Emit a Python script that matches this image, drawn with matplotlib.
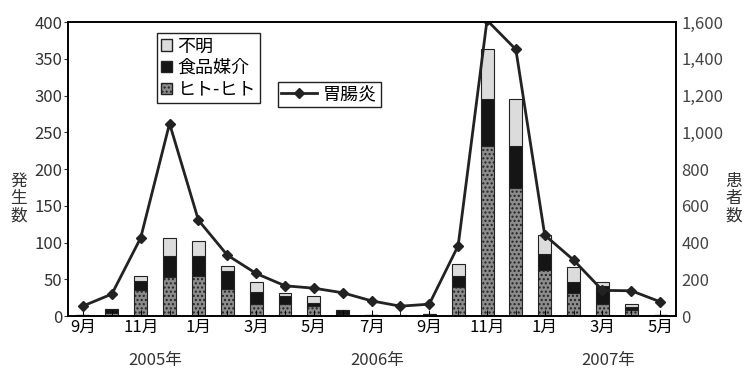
import matplotlib
matplotlib.use('Agg')
import matplotlib.pyplot as plt
from matplotlib.patches import Patch
from matplotlib.lines import Line2D
from matplotlib.ticker import FuncFormatter, MultipleLocator

plt.rcParams['font.family'] = ['Noto Sans CJK JP', 'DejaVu Sans']

# 2005年9月 ～ 2007年5月
months = ['9月', '10月', '11月', '12月', '1月', '2月', '3月', '4月', '5月', '6月', '7月',
          '8月', '9月', '10月', '11月', '12月', '1月', '2月', '3月', '4月', '5月']
hito = [1, 4, 35, 53, 54, 37, 17, 17, 14, 3, 1, 0, 1, 39, 231, 174, 63, 31, 16, 8, 1]
shokuhin = [0, 5, 13, 29, 28, 25, 16, 11, 4, 5, 0, 0, 2, 15, 64, 58, 21, 16, 25, 5, 0]
fumei = [1, 0, 6, 24, 20, 6, 13, 4, 9, 0, 1, 1, 0, 17, 69, 63, 26, 20, 6, 4, 1]
ichouen = [55, 120, 426, 1048, 522, 332, 232, 165, 152, 127, 83,
           54, 65, 383, 1610, 1451, 441, 305, 140, 138, 78]
years = ['2005年', '2006年', '2007年']
year_pos = [2.5, 10.2, 18.2]

x = list(range(len(months)))
bottom2 = [a + b for a, b in zip(hito, shokuhin)]

fig = plt.figure(figsize=(7.47, 3.68), dpi=100)
ax = fig.add_axes([0.091, 0.141, 0.814, 0.799])
ax2 = ax.twinx()

w = 0.45
ax.bar(x, hito, w, color='#8c8c8c', edgecolor='#222222', linewidth=0.8, hatch='....')
ax.bar(x, shokuhin, w, bottom=hito, color='#151515', edgecolor='#222222', linewidth=0.8)
ax.bar(x, fumei, w, bottom=bottom2, color='#dcdcdc', edgecolor='#222222', linewidth=0.8)

ax2.plot(x, ichouen, color='#222222', linewidth=2, marker='D', markersize=5)

ax.set_xlim(-0.52, 20.55)
ax.set_ylim(0, 400)
ax2.set_ylim(0, 1600)
ax.yaxis.set_major_locator(MultipleLocator(50))
ax2.yaxis.set_major_locator(MultipleLocator(200))
ax2.yaxis.set_major_formatter(FuncFormatter(lambda v, p: f'{int(v):,}'))

ax.set_xticks(x[::2])
ax.set_xticklabels(months[::2])
ax.set_xticks(x, minor=True)
ax.tick_params(axis='x', which='both', direction='in', length=4, labelsize=12, pad=2)
ax.tick_params(axis='y', direction='out', length=3, labelsize=12, pad=1, colors='#333333')
ax2.tick_params(axis='y', length=0, labelsize=12, pad=4, colors='#444444')
for s in ax2.spines.values():
    s.set_linewidth(1.2)
for s in ax.spines.values():
    s.set_linewidth(1.2)

for lab, p in zip(years, year_pos):
    ax.text(p, -0.15, lab, transform=ax.get_xaxis_transform(), ha='center',
            va='center', fontsize=12, color='#333333')

fig.text(0.025, 0.46, '発\n生\n数', ha='center', va='center', fontsize=12,
         linespacing=1.0, color='#333333')
fig.text(0.982, 0.46, '患\n者\n数', ha='center', va='center', fontsize=12,
         linespacing=1.0, color='#333333')

h1 = [Patch(facecolor='#dcdcdc', edgecolor='#222222'),
      Patch(facecolor='#151515', edgecolor='#222222'),
      Patch(facecolor='#8c8c8c', edgecolor='#222222', hatch='....')]
leg1 = ax2.legend(h1, ['不明', '食品媒介', 'ヒト-ヒト'], loc='upper left',
                  bbox_to_anchor=(0.146, 0.963), borderaxespad=0, fontsize=13,
                  handlelength=0.6, handleheight=0.6, handletextpad=0.3,
                  labelspacing=0.2, borderpad=0.25, fancybox=False,
                  edgecolor='#222222', framealpha=1)
leg1.get_frame().set_linewidth(1)
ax2.add_artist(leg1)
h2 = [Line2D([0], [0], color='#222222', linewidth=2, marker='D', markersize=5)]
leg2 = ax2.legend(h2, ['胃腸炎'], loc='upper left', bbox_to_anchor=(0.345, 0.796),
                  borderaxespad=0, fontsize=13, handlelength=2.0, handletextpad=0.3,
                  borderpad=0.2, fancybox=False, edgecolor='#222222', framealpha=1)
leg2.get_frame().set_linewidth(1)

fig.savefig('out.png', dpi=100)
